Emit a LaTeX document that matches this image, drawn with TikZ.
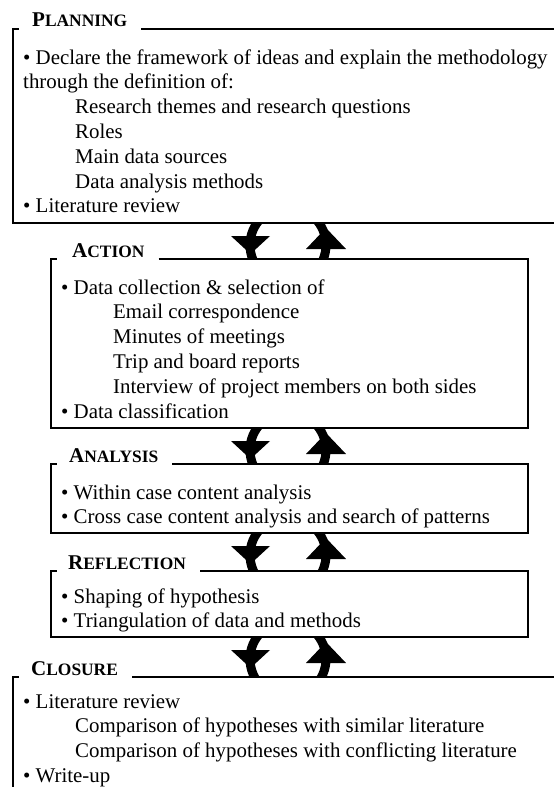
\documentclass[tikz,border=0pt]{standalone}
\usepackage{fontspec}
\setmainfont{Liberation Serif}
\newcommand{\hcap}[2]{#1{\fontsize{17.4}{20}\selectfont #2}}
\tikzset{
  box/.style={line width=1.4pt, line join=miter},
  txt/.style={anchor=base west, inner sep=0pt, font=\fontsize{20.9}{25}\selectfont},
  hd/.style={anchor=base west, inner sep=0pt, font=\fontsize{21}{25}\selectfont\bfseries},
  shaft/.style={line width=9pt},
}
\newcommand{\arrowpair}[2]{%
  \begin{scope}[yshift=-#1pt]
    \begin{scope}
      \clip (0,0) rectangle (554,#2);
      \draw[shaft] (288,22) circle (38pt);
    \end{scope}
    \fill (231,13) -- (270,13) -- (250.5,31) -- cycle;
    \fill (326,5) -- (346,26) -- (306,26) -- cycle;
  \end{scope}}
\begin{document}
\begin{tikzpicture}[x=1pt,y=-1pt]
\useasboundingbox (0,0) rectangle (554,787);

% arrows
\arrowpair{223}{36}
\arrowpair{428}{36}
\arrowpair{533}{38}
\arrowpair{637}{40}

% Planning
\node[hd] (hP) at (32,27) {\hcap{P}{LANNING}};
\draw[box] (hP.base east) ++(14,2) -- (556,29);
\draw[box] (19,29) -- (13,29) -- (13,223) -- (556,223);
\node[txt] (p1) at (23,64) {• Declare the framework of ideas and explain the methodology};
\node[txt] (p2) at (23,88.8) {through the definition of:};
\node[txt] (p3) at (75,113.6) {Research themes and research questions};
\node[txt] (p4) at (75,138.4) {Roles};
\node[txt] (p5) at (75,163.2) {Main data sources};
\node[txt] (p6) at (75,188) {Data analysis methods};
\node[txt] (p7) at (23,212.8) {• Literature review};

% Action
\node[hd] (hA) at (72,257) {\hcap{A}{CTION}};
\draw[box] (hA.base east) ++(14,2) -- (528,259) -- (528,428) -- (51,428) -- (51,259) -- (57,259);
\node[txt] (a1) at (61,294) {• Data collection \& selection of};
\node[txt] (a2) at (113,318.8) {Email correspondence};
\node[txt] (a3) at (113,343.6) {Minutes of meetings};
\node[txt] (a4) at (113,368.4) {Trip and board reports};
\node[txt] (a5) at (113,393.2) {Interview of project members on both sides};
\node[txt] (a6) at (61,418) {• Data classification};

% Analysis
\node[hd] (hN) at (69,462) {\hcap{A}{NALYSIS}};
\draw[box] (hN.base east) ++(14,2) -- (528,464) -- (528,533) -- (51,533) -- (51,464) -- (57,464);
\node[txt] (n1) at (61,499) {• Within case content analysis};
\node[txt] (n2) at (61,523.5) {• Cross case content analysis and search of patterns};

% Reflection
\node[hd] (hR) at (68,569) {\hcap{R}{EFLECTION}};
\draw[box] (hR.base east) ++(14,2) -- (528,571) -- (528,637) -- (51,637) -- (51,571) -- (57,571);
\node[txt] (r1) at (61,603) {• Shaping of hypothesis};
\node[txt] (r2) at (61,627.5) {• Triangulation of data and methods};

% Closure
\node[hd] (hC) at (31,675) {\hcap{C}{LOSURE}};
\draw[box] (hC.base east) ++(14,2) -- (556,677);
\draw[box] (19,677) -- (13,677) -- (13,792);
\node[txt] (c1) at (23,708) {• Literature review};
\node[txt] (c2) at (75,732.7) {Comparison of hypotheses with similar literature};
\node[txt] (c3) at (75,757.4) {Comparison of hypotheses with conflicting literature};
\node[txt] (c4) at (23,782) {• Write-up};
\end{tikzpicture}
\end{document}
